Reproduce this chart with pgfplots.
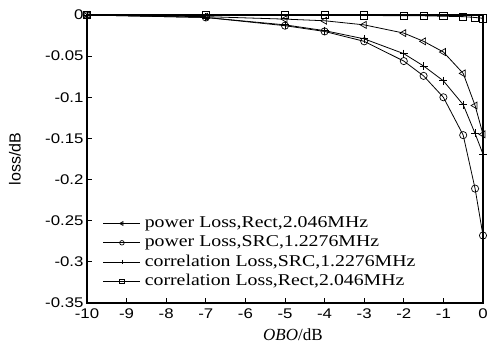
\documentclass[border=0pt]{standalone}
\usepackage{fontspec}
\setmainfont{Liberation Serif}
\newfontfamily\tickfont{Liberation Sans}[FakeStretch=1.2]
\newfontfamily\legfont{Liberation Serif}[FakeStretch=1.2]
\newfontfamily\labfont{Liberation Sans}
\usepackage{pgfplots}
\pgfplotsset{compat=1.18}
\begin{document}
\begin{tikzpicture}
\begin{axis}[
  scale only axis,
  width=396bp, height=288bp,
  xmin=-10, xmax=0, ymin=-0.35, ymax=0,
  xtick={-10,-9,...,0},
  ytick={-0.35,-0.3,-0.25,-0.2,-0.15,-0.1,-0.05,0},
  tick align=inside,
  xtick pos=bottom, ytick pos=left,
  major tick length=5bp,
  axis line style={line width=1.1pt},
  tick style={line width=0.8pt,black},
  clip=false,
  /pgf/number format/assume math mode=true,
  /pgf/number format/fixed,
  /pgf/number format/precision=2,
  ticklabel style={font=\tickfont\fontsize{14bp}{16bp}\selectfont},
  xticklabel style={yshift=-2bp},
  every axis y label/.style={at={(axis description cs:-0.182,0.5)},rotate=90,anchor=center},
  every axis x label/.style={at={(axis description cs:0.52,-0.111)},anchor=center},
  ylabel={\labfont\fontsize{16bp}{18bp}\selectfont loss/dB},
  xlabel={\fontsize{17bp}{20bp}\selectfont\textit{OBO}/dB},
  legend cell align=left,
  legend style={draw=none, fill=none, inner sep=0pt,
    at={(axis description cs:0.04,0.05)}, anchor=south west,
    font=\legfont\fontsize{16.5bp}{18bp}\selectfont,
    nodes={inner sep=0pt, text height=11bp, text depth=3bp},
    row sep=5.3bp,
    /tikz/every odd column/.append style={column sep=4bp}},
  legend image code/.code={\draw[mark repeat=2,mark phase=2,mark size=2.3bp] plot coordinates {(0bp,0bp)(18.5bp,0bp)(37bp,0bp)};},
]
\addplot[black, line width=0.8pt, mark=triangle, mark size=4bp, mark options={solid, rotate=90, line width=0.7pt, fill=white}] coordinates {
(-10,0) (-7,-0.002) (-5,-0.005) (-4,-0.007) (-3,-0.012) (-2,-0.022) (-1.5,-0.032) (-1,-0.045) (-0.5,-0.071) (-0.2,-0.110) (0,-0.145)};
\addlegendentry{power Loss,Rect,2.046MHz}
\addplot[black, line width=0.8pt, mark=o, mark size=3.6bp, mark options={solid, line width=0.7pt, fill=white}] coordinates {
(-10,0) (-7,-0.003) (-5,-0.013) (-4,-0.020) (-3,-0.032) (-2,-0.056) (-1.5,-0.074) (-1,-0.100) (-0.5,-0.146) (-0.2,-0.211) (0,-0.268)};
\addlegendentry{power Loss,SRC,1.2276MHz}
\addplot[black, line width=0.8pt, mark=+, mark size=4bp, mark options={solid, line width=0.8pt}] coordinates {
(-10,0) (-7,-0.003) (-5,-0.012) (-4,-0.019) (-3,-0.029) (-2,-0.047) (-1.5,-0.062) (-1,-0.080) (-0.5,-0.109) (-0.2,-0.144) (0,-0.169)};
\addlegendentry{correlation Loss,SRC,1.2276MHz}
\addplot[black, line width=0.8pt, mark=square, mark size=3.6bp, mark options={solid, line width=0.7pt, fill=white}] coordinates {
(-10,0) (-7,0) (-5,0) (-4,0) (-3,-0.0005) (-2,-0.001) (-1.5,-0.001) (-1,-0.0015) (-0.5,-0.002) (-0.2,-0.003) (0,-0.004)};
\addlegendentry{correlation Loss,Rect,2.046MHz}
\end{axis}
\pgfresetboundingbox
\path[use as bounding box] (-87bp,-40bp) rectangle (401bp,303bp);
\end{tikzpicture}
\end{document}
